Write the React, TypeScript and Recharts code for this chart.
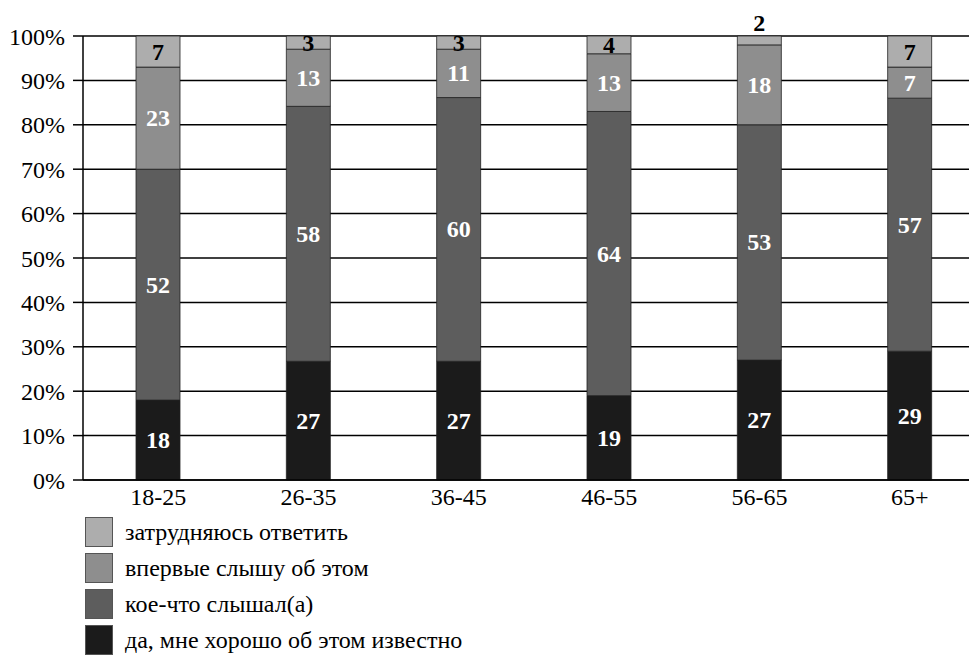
import React from "react";
import {
  BarChart, Bar, XAxis, YAxis, CartesianGrid, LabelList,
} from "recharts";

const categories = ["18-25", "26-35", "36-45", "46-55", "56-65", "65+"];
const knowWell = [18, 27, 27, 19, 27, 29];
const heardSome = [52, 58, 60, 64, 53, 57];
const firstTime = [23, 13, 11, 13, 18, 7];
const hardToSay = [7, 3, 3, 4, 2, 7];
const yTicks = [0, 0.1, 0.2, 0.3, 0.4, 0.5, 0.6, 0.7, 0.8, 0.9, 1];

const series = [
  { key: "knowWell", name: "да, мне хорошо об этом известно", color: "#1b1b1b", text: "#fff" },
  { key: "heardSome", name: "кое-что слышал(а)", color: "#5d5d5d", text: "#fff" },
  { key: "firstTime", name: "впервые слышу об этом", color: "#8e8e8e", text: "#fff" },
  { key: "hardToSay", name: "затрудняюсь ответить", color: "#adadad", text: "#000" },
];

const data = categories.map((c, i) => ({
  age: c,
  knowWell: knowWell[i],
  heardSome: heardSome[i],
  firstTime: firstTime[i],
  hardToSay: hardToSay[i],
}));

const FONT = "Liberation Serif, Tinos, Times New Roman, Noto Serif, DejaVu Serif, serif";

function makeLabel(fill: string, top: boolean) {
  return (p: any) => {
    const { x, y, width, height, value } = p;
    const above = top && value < 3; // tiny segment: label sits above the bar
    const cy = above ? y - 13 : y + height / 2;
    return (
      <text
        x={x + width / 2}
        y={cy}
        textAnchor="middle"
        dominantBaseline="central"
        fill={above ? "#000" : fill}
        style={{ fontFamily: FONT, fontWeight: "bold", fontSize: 24 }}
      >
        {value}
      </text>
    );
  };
}

export default function App() {
  return (
    <div style={{ position: "absolute", left: 0, top: 0, width: 969, height: 655, overflow: "hidden", background: "#fff", fontFamily: FONT }}>
      <BarChart
        width={969}
        height={520}
        data={data}
        stackOffset="expand"
        margin={{ top: 36, right: -16, bottom: 5, left: 0 }}
        style={{ fontFamily: FONT }}
      >
        <CartesianGrid horizontal vertical={false} stroke="#000" strokeWidth={1.5} />
        <XAxis
          dataKey="age"
          axisLine={{ stroke: "#000", strokeWidth: 1.5 }}
          tickLine={false}
          tickSize={6}
          tickMargin={2}
          height={35}
          tick={{ fill: "#000", fontSize: 24, style: { fontFamily: FONT } }}
        />
        <YAxis
          width={83}
          ticks={yTicks}
          tickFormatter={(v: number) => `${Math.round(v * 100)}%`}
          axisLine={{ stroke: "#000", strokeWidth: 1.5 }}
          tickLine={{ stroke: "#000", strokeWidth: 1.5 }}
          tickSize={10}
          tickMargin={8}
          tick={{ fill: "#000", fontSize: 24, style: { fontFamily: FONT } }}
        />
        {series.map((s, i) => (
          <Bar
            key={s.key}
            dataKey={s.key}
            name={s.name}
            stackId="a"
            fill={s.color}
            stroke="#222"
            strokeWidth={0.8}
            barSize={44}
            isAnimationActive={false}
          >
            <LabelList dataKey={s.key} content={makeLabel(s.text, i === series.length - 1)} />
          </Bar>
        ))}
      </BarChart>
      <div style={{ position: "absolute", left: 85, top: 514, fontSize: 24, color: "#000", lineHeight: 1 }}>
        {[...series].reverse().map((s) => (
          <div key={s.key} style={{ display: "flex", alignItems: "center", height: 36 }}>
            <span style={{ display: "inline-block", width: 28, height: 30, background: s.color, border: "1px solid #555", boxSizing: "border-box", marginRight: 12 }} />
            <span>{s.name}</span>
          </div>
        ))}
      </div>
    </div>
  );
}
